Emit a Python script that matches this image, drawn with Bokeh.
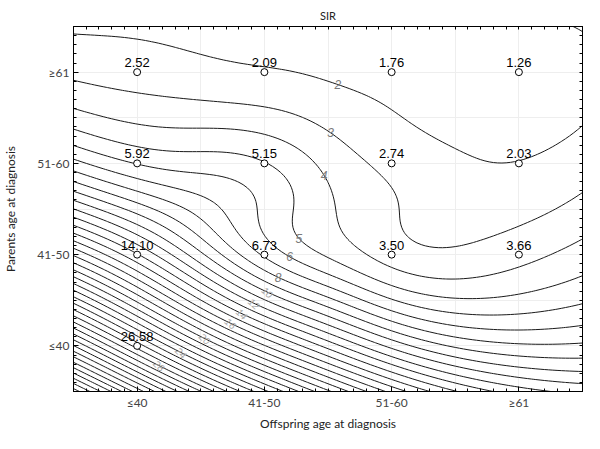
import numpy as np
from bokeh.plotting import figure
from bokeh.models import FixedTicker, LinearAxis, Range1d, ColumnDataSource
from bokeh.embed import file_html
from bokeh.resources import INLINE
from bokeh.core.properties import value

# ---------------- data ----------------
offspring_labels = ["≤40", "41-50", "51-60", "≥61"]
parent_labels = ["≤40", "41-50", "51-60", "≥61"]
# SIR values, one list per parents' age group, ordered by offspring age group
sir_parent_le40 = [26.58, None, None, None]
sir_parent_41_50 = [14.10, 6.73, 3.50, 3.66]
sir_parent_51_60 = [5.92, 5.15, 2.74, 2.03]
sir_parent_ge61 = [2.52, 2.09, 1.76, 1.26]
contour_levels = list(range(1, 61))
label_levels = [2, 3, 4, 5, 6, 8, 10, 12, 14, 16, 20, 24, 28]

# ---------------- points ----------------
rows = [sir_parent_le40, sir_parent_41_50, sir_parent_51_60, sir_parent_ge61]
px, py, pz = [], [], []
for j, row in enumerate(rows):
    for i, v in enumerate(row):
        if v is not None:
            px.append(i + 1.0)
            py.append(j + 1.0)
            pz.append(v)
px = np.array(px); py = np.array(py); pz = np.array(pz)


def dwls(x0, y0):
    """distance weighted least squares (local quadratic) surface value"""
    dx = px - x0
    dy = py - y0
    d2 = dx * dx + dy * dy
    w = 1.0 / (d2 + 0.25) ** 2
    A = np.column_stack([np.ones_like(dx), dx, dy, dx * dx, dx * dy, dy * dy])
    sw = np.sqrt(w)
    coef, *_ = np.linalg.lstsq(A * sw[:, None], pz * sw, rcond=None)
    return coef[0]


gx = np.linspace(0.5, 4.5, 121)
gy = np.linspace(0.5, 4.5, 121)
Z = np.array([[dwls(x, y) for x in gx] for y in gy])

# ---------------- figure ----------------
p = figure(width=584, height=433, x_range=Range1d(0.5, 4.5), y_range=Range1d(0.5, 4.5),
           output_backend="svg", toolbar_location=None,
           min_border_left=70, min_border_right=2, min_border_top=26, min_border_bottom=30)
p.outline_line_color = "black"
p.background_fill_color = "white"

minor = [round(0.5 + 0.1 * k, 2) for k in range(41)]
ticker = FixedTicker(ticks=[1, 2, 3, 4], minor_ticks=minor)
ticker_plain = FixedTicker(ticks=[], minor_ticks=minor)
grid_ticker = FixedTicker(ticks=[0.5, 1, 1.5, 2, 2.5, 3, 3.5, 4, 4.5])

font = "Lato"
for ax, labels in ((p.xaxis[0], offspring_labels), (p.yaxis[0], parent_labels)):
    ax.ticker = ticker
    ax.major_label_overrides = {i + 1: lab for i, lab in enumerate(labels)}
    ax.major_tick_in = 5
    ax.major_tick_out = 0
    ax.minor_tick_in = 3
    ax.minor_tick_out = 0
    ax.axis_line_color = "black"
    ax.major_label_text_font = font
    ax.major_label_text_font_size = "12px"
    ax.major_label_text_color = "#444444"
    ax.axis_label_text_font = font
    ax.axis_label_text_font_size = "12px"
    ax.axis_label_text_font_style = "normal"
    ax.axis_label_text_color = "#222222"

p.xaxis.axis_label = "Offspring age at diagnosis"
p.yaxis.axis_label = "Parents age at diagnosis"
p.xaxis.major_label_standoff = 3
p.xaxis.axis_label_standoff = 3
p.yaxis.major_label_standoff = 4
p.yaxis.axis_label_standoff = 16

for loc in ("above", "right"):
    ax = LinearAxis(ticker=ticker_plain, major_tick_in=0, major_tick_out=0,
                    minor_tick_in=3, minor_tick_out=0, axis_line_color="black",
                    major_label_standoff=0)
    p.add_layout(ax, loc)

p.xgrid.ticker = grid_ticker
p.ygrid.ticker = grid_ticker
p.xgrid.grid_line_color = "#eeeeee"
p.ygrid.grid_line_color = "#eeeeee"

p.title.text = "SIR"
p.title.align = "center"
p.title.text_font = font
p.title.text_font_size = "11px"
p.title.text_font_style = "normal"
p.title.text_color = "#222222"

# contour lines
p.contour(gx, gy, Z, levels=contour_levels, line_color="#1a1a1a", line_width=1)

# contour labels placed along a guide path
path = np.array([[2.62, 4.1], [2.58, 3.88], [2.46, 2.79], [2.25, 2.11], [2.06, 1.63],
                 [1.72, 1.23], [1.18, 0.79], [1.0, 0.6]])
pts = []
for a, b in zip(path[:-1], path[1:]):
    for t in np.linspace(0, 1, 200, endpoint=False):
        pts.append(a + (b - a) * t)
pts = np.array(pts)
vals = np.array([dwls(x, y) for x, y in pts])
sx = 512 / 4.0
sy = 372 / 4.0
big = dict(x=[], y=[], t=[], a=[])
small = dict(x=[], y=[], t=[], a=[])
for lev in label_levels:
    idx = np.where((vals[:-1] - lev) * (vals[1:] - lev) <= 0)[0]
    if len(idx) == 0:
        continue
    k = idx[0]
    f = (lev - vals[k]) / (vals[k + 1] - vals[k])
    x0, y0 = pts[k] + (pts[k + 1] - pts[k]) * f
    h = 1e-3
    gxv = (dwls(x0 + h, y0) - dwls(x0 - h, y0)) / (2 * h)
    gyv = (dwls(x0, y0 + h) - dwls(x0, y0 - h)) / (2 * h)
    ang = np.arctan2(gxv / sy, -gyv / sx)
    if ang > np.pi / 2:
        ang -= np.pi
    if ang < -np.pi / 2:
        ang += np.pi
    d = big if lev < 10 else small
    d["x"].append(x0); d["y"].append(y0); d["t"].append(str(lev))
    d["a"].append(0.0 if lev < 10 else ang)

p.text(x="x", y="y", text="t", angle="a", source=ColumnDataSource(big),
       text_align="center", text_baseline="middle",
       text_font=value("Liberation Sans"), text_font_style="italic", text_font_size="12px",
       text_color="#7a7a7a")
p.text(x="x", y="y", text="t", angle="a", source=ColumnDataSource(small),
       text_align="center", text_baseline="middle",
       text_font=value("Liberation Sans"), text_font_style="italic", text_font_size="10px",
       text_color="#a8a8a8")

# data points
src = ColumnDataSource(dict(x=px, y=py, t=["%.2f" % v for v in pz]))
p.scatter("x", "y", source=src, marker="circle", size=7, fill_color="white",
          line_color="black", line_width=1)
p.text("x", "y", text="t", source=src, text_align="center", text_baseline="bottom",
       y_offset=-5, text_font=value("Liberation Sans"), text_font_size="13px",
       text_color="black")

open("out.html", "w").write(file_html(p, INLINE))
